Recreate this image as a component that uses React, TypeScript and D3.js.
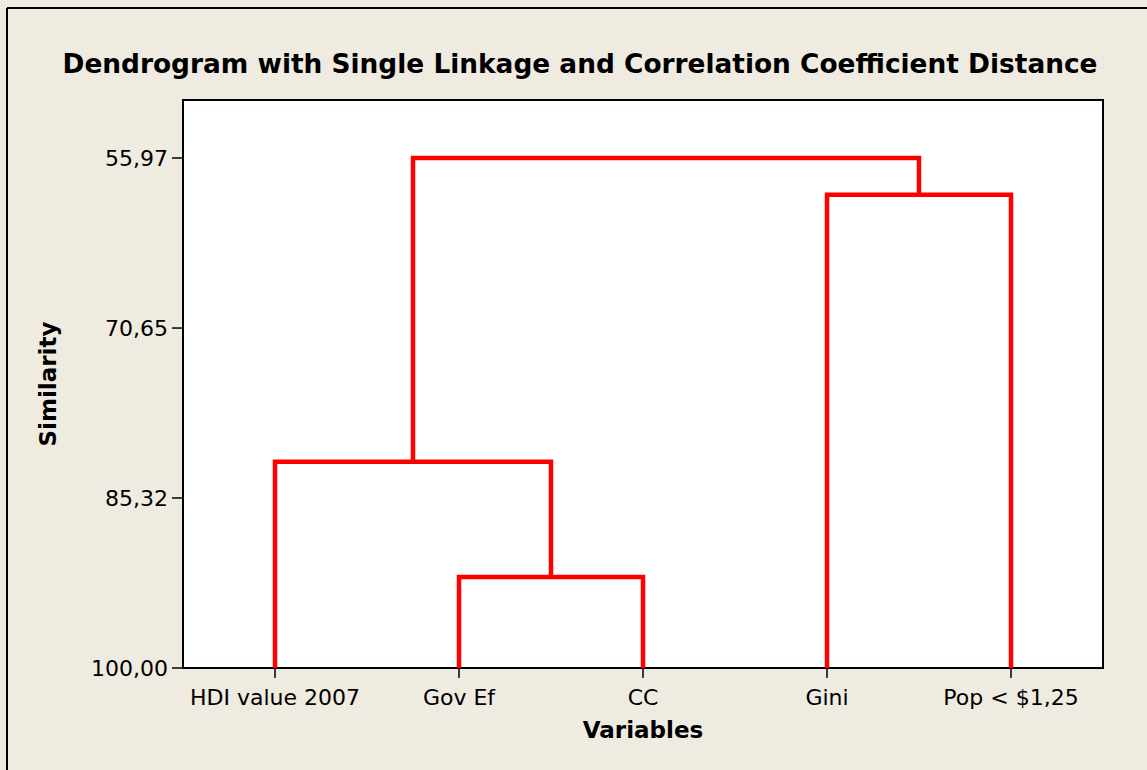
import React from "react";
import * as d3 from "d3";

const leaves = ["HDI value 2007", "Gov Ef", "CC", "Gini", "Pop < $1,25"];
const yTicks = [55.97, 70.65, 85.32, 100.0];
// merges: [left child, right child, similarity]; children: leaf index or "m<k>"
const merges: [string, string, number][] = [
  ["1", "2", 92.15],
  ["0", "m0", 82.2],
  ["3", "4", 59.15],
  ["m1", "m2", 55.97],
];

const W = 1147, H = 770;
const M = { left: 183, right: 1103, top: 100, bottom: 668 };
const FONT = "'DejaVu Sans', sans-serif";

export default function App() {
  const x = d3.scaleBand<string>().domain(leaves).range([M.left, M.right]).padding(0);
  const y = d3.scaleLinear().domain([100, 100 - (M.bottom - M.top) / ((M.bottom - 158) / 44.03)]).range([M.bottom, M.top]);

  const pos: Record<string, { x: number; s: number }> = {};
  leaves.forEach((l, i) => (pos[String(i)] = { x: x(l)! + x.bandwidth() / 2, s: 100 }));
  const paths: string[] = [];
  merges.forEach(([a, b, s], k) => {
    const pa = pos[a], pb = pos[b];
    const p = d3.path();
    p.moveTo(pa.x, y(pa.s));
    p.lineTo(pa.x, y(s));
    p.lineTo(pb.x, y(s));
    p.lineTo(pb.x, y(pb.s));
    paths.push(p.toString());
    pos["m" + k] = { x: (pa.x + pb.x) / 2, s };
  });

  const fmt = (v: number) => v.toFixed(2).replace(".", ",");

  return (
    <div style={{ position: "absolute", left: 0, top: 0 }}>
      <svg width={W} height={H} style={{ display: "block" }}>
        <rect x={0} y={0} width={W} height={H} fill="#efebe1" />
        <line x1={7} y1={8} x2={W} y2={8} stroke="#000" strokeWidth={2} />
        <line x1={7} y1={8} x2={7} y2={H} stroke="#000" strokeWidth={2} />
        <text x={(63 + 1097) / 2} y={73} textAnchor="middle" fontFamily={FONT} fontWeight="bold" fontSize={26.4} fill="#000">
          Dendrogram with Single Linkage and Correlation Coefficient Distance
        </text>
        <rect x={M.left} y={M.top} width={M.right - M.left} height={M.bottom - M.top} fill="#fff" stroke="#000" strokeWidth={2} />
        {yTicks.map((t) => (
          <g key={t}>
            <line x1={M.left - 11} x2={M.left} y1={y(t)} y2={y(t)} stroke="#000" strokeWidth={1.5} />
            <text x={M.left - 15} y={y(t)} dy="0.36em" textAnchor="end" fontFamily={FONT} fontSize={22} fill="#000">
              {fmt(t)}
            </text>
          </g>
        ))}
        {leaves.map((l) => {
          const cx = x(l)! + x.bandwidth() / 2;
          return (
            <g key={l}>
              <line x1={cx} x2={cx} y1={M.bottom} y2={M.bottom + 10} stroke="#000" strokeWidth={1.5} />
              <text x={cx} y={705} textAnchor="middle" fontFamily={FONT} fontSize={22} fill="#000">
                {l}
              </text>
            </g>
          );
        })}
        {paths.map((d, i) => (
          <path key={i} d={d} fill="none" stroke="#ff0000" strokeWidth={4.5} strokeLinejoin="miter" />
        ))}
        <text x={(M.left + M.right) / 2} y={738} textAnchor="middle" fontFamily={FONT} fontWeight="bold" fontSize={23} fill="#000">
          Variables
        </text>
        <text transform={`translate(56,${(M.top + M.bottom) / 2}) rotate(-90)`} textAnchor="middle" fontFamily={FONT} fontWeight="bold" fontSize={23} fill="#000">
          Similarity
        </text>
      </svg>
    </div>
  );
}
